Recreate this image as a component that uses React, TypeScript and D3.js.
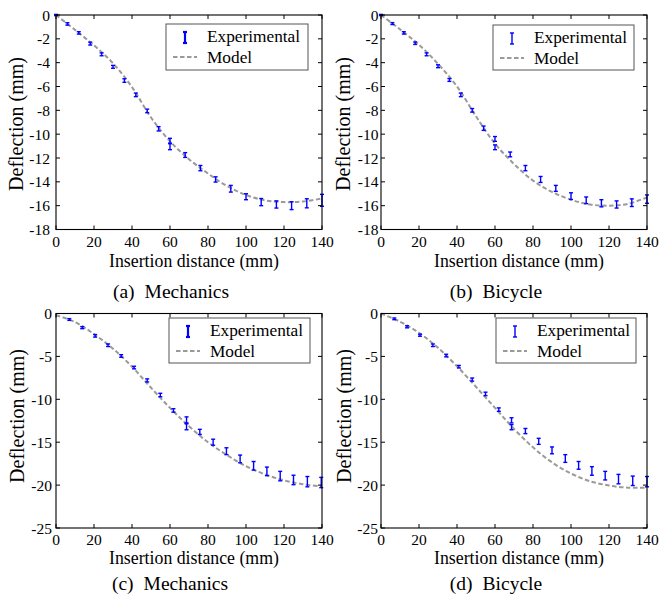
import React from "react";
import { scaleLinear, line, curveCatmullRom } from "d3";

// insertion distance (mm) of the measured points
const xAB = [0, 6, 12, 18, 24, 30, 36, 42, 48, 54, 60, 60, 68, 76, 84, 92, 100, 108, 116, 124, 132, 140];
const xC = [7, 13.8, 20.6, 27.4, 34.3, 41.1, 48, 54.9, 61.8, 68.7, 68.7, 75.7, 82.7, 89.7, 96.9, 104, 111, 118, 125, 132.3, 139.6];
const xD = [7, 13.7, 20.5, 27.3, 34.3, 41, 48, 55, 62, 68.7, 68.7, 76, 83, 90, 97, 104, 111, 118, 125, 132.5, 140];

// measured deflection (mm) and error half-widths
const expA = [0, -0.75, -1.5, -2.4, -3.3, -4.35, -5.5, -6.7, -8.05, -9.55, -10.55, -11.05, -11.75, -12.85, -13.8, -14.58, -15.25, -15.7, -15.9, -16.0, -15.8, -15.55];
const errA = [0.05, 0.1, 0.1, 0.12, 0.12, 0.12, 0.15, 0.15, 0.15, 0.18, 0.2, 0.25, 0.2, 0.22, 0.22, 0.28, 0.25, 0.3, 0.3, 0.33, 0.38, 0.5];
const expB = [0, -0.72, -1.5, -2.37, -3.3, -4.3, -5.45, -6.7, -8.0, -9.5, -10.4, -11.1, -11.7, -12.85, -13.8, -14.55, -15.2, -15.55, -15.8, -15.9, -15.75, -15.45];
const errB = [0.05, 0.08, 0.1, 0.1, 0.12, 0.12, 0.12, 0.15, 0.15, 0.18, 0.2, 0.2, 0.2, 0.22, 0.25, 0.25, 0.28, 0.28, 0.3, 0.3, 0.32, 0.35];
const expC = [-0.7, -1.65, -2.6, -3.7, -4.95, -6.3, -7.8, -9.5, -11.3, -12.4, -13.2, -13.8, -15.0, -16.05, -16.95, -17.75, -18.4, -18.95, -19.4, -19.6, -19.7];
const errC = [0.1, 0.12, 0.15, 0.15, 0.15, 0.15, 0.18, 0.2, 0.2, 0.35, 0.35, 0.3, 0.35, 0.4, 0.45, 0.5, 0.5, 0.55, 0.55, 0.6, 0.6];
const expD = [-0.62, -1.55, -2.53, -3.7, -4.9, -6.2, -7.7, -9.37, -11.2, -12.45, -13.25, -13.7, -14.9, -15.95, -16.9, -17.7, -18.35, -18.9, -19.3, -19.5, -19.6];
const errD = [0.1, 0.12, 0.12, 0.15, 0.15, 0.15, 0.18, 0.2, 0.2, 0.3, 0.3, 0.3, 0.35, 0.4, 0.45, 0.45, 0.5, 0.5, 0.55, 0.55, 0.6];

// model curve, sampled every 10 mm
const modelX = [0, 10, 20, 30, 40, 50, 60, 70, 80, 90, 100, 110, 120, 130, 140];
const modelA = [0, -1.25, -2.55, -4.05, -6.05, -8.6, -10.6, -12.1, -13.3, -14.35, -15.1, -15.55, -15.7, -15.65, -15.4];
const modelB = [0, -1.2, -2.5, -4.1, -6.0, -8.5, -10.8, -12.5, -13.9, -14.85, -15.5, -15.9, -16.0, -15.85, -15.3];
const modelC = [-0.2, -1.0, -2.4, -4.1, -6.2, -8.65, -11.0, -13.15, -15.0, -16.5, -17.8, -18.75, -19.45, -19.9, -20.15];
const modelD = [0, -0.95, -2.25, -4.0, -6.15, -8.55, -11.0, -13.45, -15.6, -17.35, -18.65, -19.55, -20.05, -20.3, -20.3];

const xTicks = [0, 20, 40, 60, 80, 100, 120, 140];
const yTicksTop = [0, -2, -4, -6, -8, -10, -12, -14, -16, -18];
const yTicksBottom = [0, -5, -10, -15, -20, -25];

const FONT = '"Liberation Serif", "Times New Roman", serif';
const BLUE = "#0000ff";
const GREY = "#9a9a9a";

const panels = [
  { key: "a", label: "(a)", name: "Mechanics", xs: xAB, ys: expA, es: errA, model: modelA, yTicks: yTicksTop,
    l: 56, r: 322, t: 15, b: 229.5, gap: 6, ylx: 23, yly: 124, tickY: 246.5, xlY: 266.5, capY: 298, capX: 171,
    leg: { x: 166, y: 24, w: 142, h: 46 }, legBold: true },
  { key: "b", label: "(b)", name: "Bicycle", xs: xAB, ys: expB, es: errB, model: modelB, yTicks: yTicksTop,
    l: 381, r: 647, t: 15, b: 229.5, gap: 2.5, ylx: 350, yly: 124, tickY: 246.5, xlY: 266.5, capY: 298, capX: 496,
    leg: { x: 493, y: 25, w: 141, h: 45 }, legBold: false },
  { key: "c", label: "(c)", name: "Mechanics", xs: xC, ys: expC, es: errC, model: modelC, yTicks: yTicksBottom,
    l: 56, r: 322, t: 313.5, b: 528, gap: 4, ylx: 24, yly: 416, tickY: 544.5, xlY: 564, capY: 590, capX: 170,
    leg: { x: 169, y: 318, w: 141, h: 45 }, legBold: true },
  { key: "d", label: "(d)", name: "Bicycle", xs: xD, ys: expD, es: errD, model: modelD, yTicks: yTicksBottom,
    l: 381, r: 647, t: 313.5, b: 528, gap: 3, ylx: 351, yly: 416, tickY: 544.5, xlY: 564, capY: 590, capX: 496,
    leg: { x: 496, y: 318, w: 140, h: 45 }, legBold: false },
];

const T = ({ x, y, size = 17, anchor = "start", rotate = false, children }: any) => (
  <text
    transform={rotate ? `translate(${x},${y}) rotate(-90)` : `translate(${x},${y})`}
    fontSize={size}
    fontFamily={FONT}
    textAnchor={anchor}
    fill="#000"
  >
    {children}
  </text>
);

const Panel = ({ p }: any) => {
  const x = scaleLinear().domain([0, 140]).range([p.l, p.r]);
  const y = scaleLinear().domain([p.yTicks[p.yTicks.length - 1], 0]).range([p.b, p.t]);
  const modelPath = line<number>()
    .x((_, i) => x(modelX[i]))
    .y((d) => y(d))
    .curve(curveCatmullRom)(p.model);
  const tl = 4;
  const lg = p.leg;
  const legBarW = p.legBold ? 2.2 : 1.4;
  return (
    <g>
      <path d={modelPath || ""} fill="none" stroke={GREY} strokeWidth={2} strokeDasharray="4.5 2.5" />
      {p.ys.map((v: number, i: number) => {
        const cx = x(p.xs[i]);
        const y1 = y(v + p.es[i]);
        const y2 = y(v - p.es[i]);
        return (
          <g key={i} stroke={BLUE} strokeWidth={1.4}>
            <line x1={cx} x2={cx} y1={y1} y2={y2} />
            <line x1={cx - 2} x2={cx + 2} y1={y1} y2={y1} />
            <line x1={cx - 2} x2={cx + 2} y1={y2} y2={y2} />
          </g>
        );
      })}
      {/* axes box with inward ticks */}
      <rect x={p.l} y={p.t} width={p.r - p.l} height={p.b - p.t} fill="none" stroke="#000" strokeWidth={1.1} />
      {xTicks.map((t) => (
        <g key={"x" + t} stroke="#000" strokeWidth={1}>
          <line x1={x(t)} x2={x(t)} y1={p.b} y2={p.b - tl} />
          <line x1={x(t)} x2={x(t)} y1={p.t} y2={p.t + tl} />
        </g>
      ))}
      {p.yTicks.map((t: number) => (
        <g key={"y" + t} stroke="#000" strokeWidth={1}>
          <line x1={p.l} x2={p.l + tl} y1={y(t)} y2={y(t)} />
          <line x1={p.r} x2={p.r - tl} y1={y(t)} y2={y(t)} />
        </g>
      ))}
      {xTicks.map((t) => (
        <T key={"xl" + t} x={x(t)} y={p.tickY} size={15.5} anchor="middle">{t}</T>
      ))}
      {p.yTicks.map((t: number) => (
        <T key={"yl" + t} x={p.l - p.gap} y={y(t) + 5.5} size={15.5} anchor="end">{t}</T>
      ))}
      <T x={(p.l + p.r) / 2 + 5} y={p.xlY} size={17.8} anchor="middle">Insertion distance (mm)</T>
      <T x={p.ylx} y={p.yly} size={20} anchor="middle" rotate>Deflection (mm)</T>
      <T x={p.capX} y={p.capY} size={19.5} anchor="middle">
        <tspan>{p.label}</tspan>
        <tspan dx={10}>{p.name}</tspan>
      </T>
      {/* legend */}
      <rect x={lg.x} y={lg.y} width={lg.w} height={lg.h} fill="#fff" stroke="#555" strokeWidth={1} />
      <g stroke={BLUE} strokeWidth={legBarW}>
        <line x1={lg.x + 19} x2={lg.x + 19} y1={lg.y + 8} y2={lg.y + 19} />
        <line x1={lg.x + 17} x2={lg.x + 21} y1={lg.y + 8} y2={lg.y + 8} />
        <line x1={lg.x + 17} x2={lg.x + 21} y1={lg.y + 19} y2={lg.y + 19} />
      </g>
      <line x1={lg.x + 7} x2={lg.x + 31} y1={lg.y + 33} y2={lg.y + 33} stroke={GREY} strokeWidth={2} strokeDasharray="4.5 2.5" />
      <T x={lg.x + 41} y={lg.y + 18} size={17.3}>Experimental</T>
      <T x={lg.x + 41} y={lg.y + 39} size={17.3}>Model</T>
    </g>
  );
};

export default function App() {
  return (
    <svg width={662} height={598} style={{ position: "absolute", left: 0, top: 0, background: "#fff" }}>
      <rect width={662} height={598} fill="#fff" />
      {panels.map((p) => (
        <Panel key={p.key} p={p} />
      ))}
    </svg>
  );
}
